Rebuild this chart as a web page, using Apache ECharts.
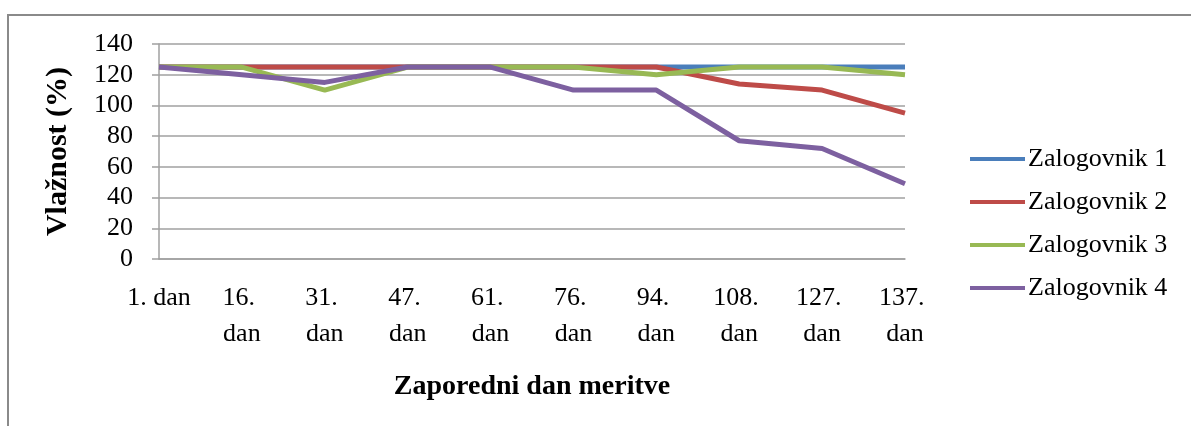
<!DOCTYPE html>
<html>
<head>
<meta charset="utf-8">
<script src="https://cdn.jsdelivr.net/npm/echarts@6/dist/echarts.min.js"></script>
<style>
  html, body { margin: 0; padding: 0; background: #ffffff; }
  #chart { width: 1191px; height: 426px; }
</style>
</head>
<body>
<div id="chart"></div>
<script>
// Measurement days and moisture readings per storage unit
const days = ['1. dan', '16. dan', '31. dan', '47. dan', '61. dan', '76. dan', '94. dan', '108. dan', '127. dan', '137. dan'];
const zalogovnik1 = [125, 125, 125, 125, 125, 125, 125, 125, 125, 125];
const zalogovnik2 = [125, 125, 125, 125, 125, 125, 125, 114, 110, 95];
const zalogovnik3 = [125, 125, 110, 125, 125, 125, 120, 125, 125, 120];
const zalogovnik4 = [125, 120, 115, 125, 125, 110, 110, 77, 72, 49];
const seriesNames = ['Zalogovnik 1', 'Zalogovnik 2', 'Zalogovnik 3', 'Zalogovnik 4'];
const colors = ['#4a7ebb', '#be4b48', '#98b954', '#7d60a0'];

const font = "'Liberation Serif', 'Times New Roman', serif";
const gridColor = '#a0a0a0';

const chart = echarts.init(document.getElementById('chart'), null, { renderer: 'canvas' });

const seriesData = [zalogovnik1, zalogovnik2, zalogovnik3, zalogovnik4];

chart.setOption({
  animation: false,
  backgroundColor: '#ffffff',
  color: colors,
  graphic: [{
    type: 'rect',
    shape: { x: 8, y: 15, width: 1300, height: 600 },
    style: { fill: 'none', stroke: '#8a8a8a', lineWidth: 2 },
    silent: true
  }],
  grid: { left: 159, right: 286, top: 44, bottom: 167 },
  legend: {
    orient: 'vertical',
    left: 965,
    top: 141,
    itemWidth: 55,
    itemHeight: 4,
    itemGap: 17,
    icon: 'rect',
    textStyle: { fontFamily: font, fontSize: 26, lineHeight: 26, color: '#000', padding: [0, 0, 0, -2] },
    data: seriesNames
  },
  xAxis: {
    type: 'category',
    data: days,
    boundaryGap: false,
    axisLine: { lineStyle: { color: gridColor, width: 1.5 } },
    axisTick: { show: false },
    axisLabel: {
      interval: 0,
      margin: 21,
      width: 70,
      overflow: 'break',
      lineHeight: 36,
      fontFamily: font,
      fontSize: 26,
      color: '#000',
      verticalAlign: 'top'
    },
    name: 'Zaporedni dan meritve',
    nameLocation: 'middle',
    nameGap: 114,
    nameTextStyle: { fontFamily: font, fontSize: 28, fontWeight: 'bold', color: '#000' }
  },
  yAxis: {
    type: 'value',
    min: 0,
    max: 140,
    interval: 20,
    axisLine: { show: true, lineStyle: { color: gridColor, width: 1.5 } },
    axisTick: { show: true, length: 7, lineStyle: { color: gridColor, width: 1.5 } },
    splitLine: { lineStyle: { color: gridColor, width: 1.5 } },
    axisLabel: { margin: 26, fontFamily: font, fontSize: 26, color: '#000' },
    name: 'Vlažnost (%)',
    nameLocation: 'middle',
    nameGap: 86,
    nameTextStyle: { fontFamily: font, fontSize: 30, fontWeight: 'bold', color: '#000' }
  },
  series: seriesData.map((d, i) => ({
    name: seriesNames[i],
    type: 'line',
    data: d,
    symbol: 'none',
    lineStyle: { width: 5, color: colors[i] },
    itemStyle: { color: colors[i] }
  }))
});
</script>
</body>
</html>
